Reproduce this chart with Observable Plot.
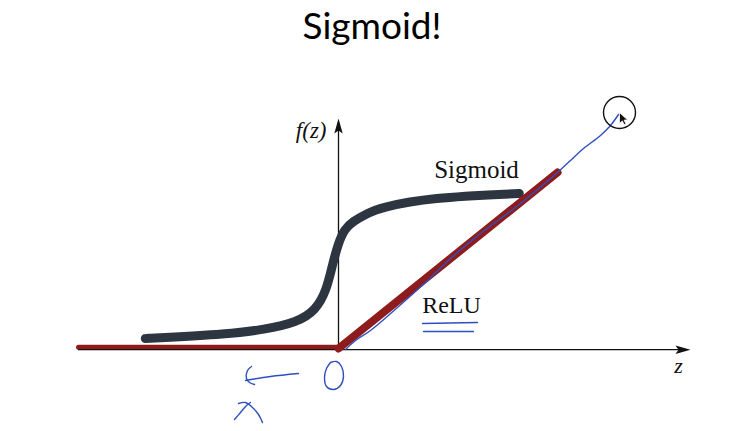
<!DOCTYPE html>
<html><head><meta charset="utf-8">
<script src="https://cdn.jsdelivr.net/npm/d3@7"></script>
<script src="https://cdn.jsdelivr.net/npm/@observablehq/plot@0.6"></script>
<style>
body{margin:0;background:#fff;width:744px;height:431px;overflow:hidden}
#title{height:60px;font-family:Lato,"Open Sans",sans-serif;font-size:37px;text-align:center;line-height:1;padding-top:6px;box-sizing:border-box;color:#000}
#chart svg{display:block}
</style></head><body>
<div id="title">Sigmoid!</div>
<div id="chart"></div>
<script>
// Sigmoid curve
const sigmoidZ = [-4.83, -4.8, -2.7, -1.875, -1.025, -0.575, -0.3, -0.15, 0.0, 0.15, 0.35, 0.725, 1.05, 2.3, 4.5, 4.52];
const sigmoidF = [0.25, 0.25, 0.36, 0.47, 0.66, 0.95, 1.45, 2.1, 2.65, 2.98, 3.17, 3.38, 3.525, 3.775, 3.875, 3.875];
// ReLU
const reluFlatZ = [-6.5, 0];
const reluFlatF = [0.03, 0.03];
const reluRiseZ = [0, 5.475];
const reluRiseF = [0, 4.4];
// Axes
const xAxisZ = [-6.5, 8.5];
const xAxisF = [-0.03, -0.03];
const yAxisZ = [0, 0];
const yAxisF = [0, 5.5];
const arrowTipZ = [8.8, 0];
const arrowTipF = [-0.03, 5.75];
const arrowTipRotate = [90, 0];
// Labels
const labelText = ["f(z)", "z", "Sigmoid", "ReLU"];
const labelZ = [-0.3, 8.5, 3.45, 2.825];
const labelF = [5.275, -0.6, 4.275, 0.9];
const labelAnchor = ["end", "middle", "middle", "middle"];
const labelItalic = [true, true, false, false];
const labelSize = [23, 22, 25, 24];
// Hand-drawn annotations (blue pen)
const penStroke = [
  "trace","trace","trace","trace","trace","trace","trace","trace","trace","trace","trace","trace","trace","trace",
  "under1","under1","under2","under2",
  "zero","zero","zero","zero","zero","zero","zero","zero","zero","zero",
  "arrow","arrow","arrow",
  "tick","tick","tick","tick","tick",
  "xa","xa","xa","xa",
  "xb","xb","xb","xb","xb"
];
const penZ = [
  0.175, 0.425, 0.8, 1.475, 2.225, 2.8, 3.55, 4.55, 5.475, 5.8, 6.125, 6.55, 6.8, 7.0,
  2.1, 3.475, 2.125, 3.375,
  -0.2, -0.3, -0.35, -0.3, -0.125, 0.05, 0.125, 0.075, -0.05, -0.2,
  -1.0, -1.7, -2.325,
  -2.175, -2.275, -2.3, -2.225, -2.1,
  -2.6, -2.45, -2.3, -2.2,
  -2.5, -2.325, -2.15, -2.0, -1.9
];
const penF = [
  -0.025, 0.2, 0.45, 1.025, 1.7, 2.25, 2.875, 3.625, 4.4, 4.7, 5.0, 5.325, 5.575, 5.85,
  0.625, 0.65, 0.425, 0.425,
  -0.35, -0.5, -0.725, -0.95, -1.025, -0.925, -0.7, -0.45, -0.325, -0.35,
  -0.625, -0.7, -0.8,
  -0.45, -0.55, -0.75, -0.85, -0.9,
  -1.775, -1.6, -1.425, -1.35,
  -1.375, -1.35, -1.475, -1.65, -1.85
];
// Pointer highlight circle
const pointerZ = [7.025];
const pointerF = [5.9];

const sigmoid = sigmoidZ.map((z, i) => ({z, f: sigmoidF[i]}));
const reluFlat = reluFlatZ.map((z, i) => ({z, f: reluFlatF[i]}));
const reluRise = reluRiseZ.map((z, i) => ({z, f: reluRiseF[i]}));
const xAxis = xAxisZ.map((z, i) => ({z, f: xAxisF[i]}));
const yAxis = yAxisZ.map((z, i) => ({z, f: yAxisF[i]}));
const tips = arrowTipZ.map((z, i) => ({z, f: arrowTipF[i], r: arrowTipRotate[i]}));
const labels = labelText.map((t, i) => ({t, z: labelZ[i], f: labelF[i], a: labelAnchor[i], it: labelItalic[i], s: labelSize[i]}));
const pen = penZ.map((z, i) => ({z, f: penF[i], k: penStroke[i]}));
const pointer = pointerZ.map((z, i) => ({z, f: pointerF[i]}));

const arrowHead = {draw(ctx) { ctx.moveTo(0, 0); ctx.lineTo(4.2, 15); ctx.lineTo(0, 12); ctx.lineTo(-4.2, 15); ctx.closePath(); }};
const cursor = {draw(ctx) { ctx.moveTo(0, 0); ctx.lineTo(0, 11); ctx.lineTo(2.8, 8.4); ctx.lineTo(4.6, 12.2); ctx.lineTo(6.4, 11.3); ctx.lineTo(4.6, 7.6); ctx.lineTo(8.2, 7.6); ctx.closePath(); }};

const textMark = (l) => Plot.text([l], {x: "z", y: "f", text: "t", textAnchor: l.a, lineAnchor: "bottom",
  fontFamily: "Liberation Serif", fontStyle: l.it ? "italic" : "normal", fontSize: l.s, fill: "#111"});

const chart = Plot.plot({
  width: 744, height: 371,
  marginTop: 0, marginRight: 0, marginBottom: 0, marginLeft: 0,
  x: {domain: [-8.45, 10.15], range: [0, 744], axis: null},
  y: {domain: [-2.075, 7.2], range: [371, 0], axis: null},
  marks: [
    Plot.line(reluFlat, {x: "z", y: "f", stroke: "#8e1c1c", strokeWidth: 5}),
    Plot.line(xAxis, {x: "z", y: "f", stroke: "#111", strokeWidth: 1.3}),
    Plot.line(yAxis, {x: "z", y: "f", stroke: "#111", strokeWidth: 1.3}),
    Plot.dot(tips, {x: "z", y: "f", rotate: "r", symbol: arrowHead, fill: "#111", stroke: "none", r: 5}),
    Plot.line(sigmoid, {x: "z", y: "f", curve: "basis", stroke: "#2c3540", strokeWidth: 9, strokeLinecap: "round"}),
    Plot.line(reluRise, {x: "z", y: "f", stroke: "#8e1c1c", strokeWidth: 8}),
    ...labels.map(textMark),
    Plot.line(pen, {x: "z", y: "f", z: "k", curve: "catmull-rom", stroke: "#2f4fc0", strokeWidth: 1.4, strokeLinecap: "round", strokeLinejoin: "round"}),
    Plot.dot(pointer, {x: "z", y: "f", r: 16, stroke: "#111", strokeWidth: 1.4, fill: "none"}),
    Plot.dot(pointer, {x: "z", y: "f", symbol: cursor, fill: "#111", stroke: "#fff", strokeWidth: 0.8, r: 5})
  ]
});
document.getElementById("chart").appendChild(chart);
</script></body></html>
